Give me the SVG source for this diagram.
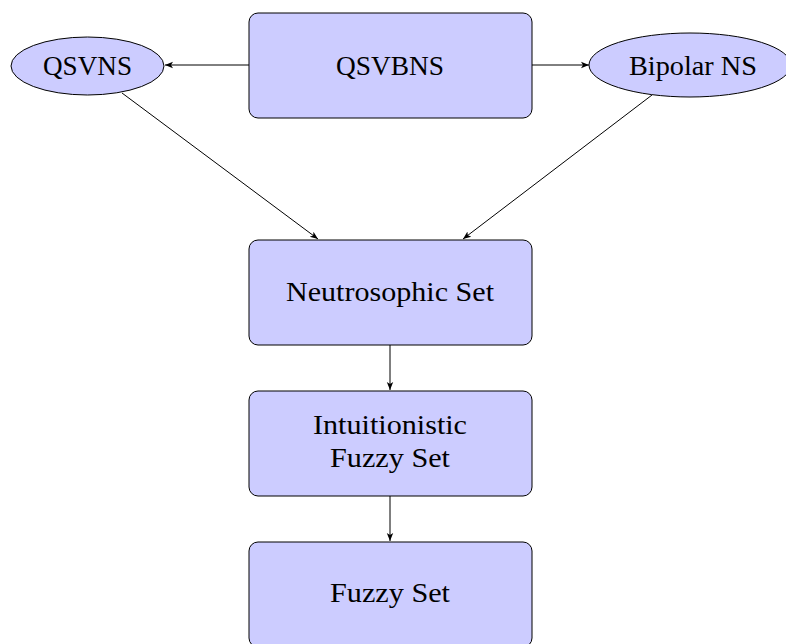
<svg xmlns="http://www.w3.org/2000/svg" width="786" height="644" viewBox="0 0 786 644">
<style>
.box{fill:#ccccff;stroke:#000;stroke-width:1}
.t{font-family:"Liberation Serif","DejaVu Serif",serif;font-size:27px;fill:#000;text-anchor:middle}
.c{stroke:#000;stroke-width:1;fill:none;marker-end:url(#ah)}
</style>
<defs>
<marker id="ah" viewBox="0 0 10 10" refX="10" refY="5" markerWidth="8" markerHeight="8" markerUnits="userSpaceOnUse" orient="auto">
<path d="M0,1 L10,5 L0,9 L2.5,5 Z" fill="#000"/>
</marker>
</defs>
<rect width="786" height="644" fill="#fff"/>
<g id="connectors">
<line class="c" x1="249" y1="65" x2="165" y2="65"/>
<line class="c" x1="532" y1="65" x2="589" y2="65"/>
<line class="c" x1="122" y1="93" x2="318" y2="239"/>
<line class="c" x1="652" y1="95" x2="463" y2="239"/>
<line class="c" x1="390" y1="345" x2="390" y2="390"/>
<line class="c" x1="390" y1="496" x2="390" y2="541"/>
</g>
<g id="qsvbns">
<rect class="box" x="249" y="13" width="283" height="105" rx="9"/>
<text class="t" x="390" y="75" textLength="108" lengthAdjust="spacingAndGlyphs">QSVBNS</text>
</g>
<g id="qsvns">
<ellipse class="box" cx="87.5" cy="66" rx="76.5" ry="29"/>
<text class="t" x="87.5" y="75" textLength="89" lengthAdjust="spacingAndGlyphs">QSVNS</text>
</g>
<g id="bipolar">
<ellipse class="box" cx="690" cy="65" rx="101" ry="32"/>
<text class="t" x="693" y="75" textLength="128" lengthAdjust="spacingAndGlyphs">Bipolar NS</text>
</g>
<g id="neutrosophic">
<rect class="box" x="249" y="240" width="283" height="105" rx="9"/>
<text class="t" x="390" y="301" textLength="208" lengthAdjust="spacingAndGlyphs">Neutrosophic Set</text>
</g>
<g id="intuitionistic">
<rect class="box" x="249" y="391" width="283" height="105" rx="9"/>
<text class="t" x="390" y="434" textLength="154" lengthAdjust="spacingAndGlyphs">Intuitionistic</text>
<text class="t" x="390" y="467" textLength="120" lengthAdjust="spacingAndGlyphs">Fuzzy Set</text>
</g>
<g id="fuzzy">
<rect class="box" x="249" y="542" width="283" height="105" rx="9"/>
<text class="t" x="390" y="602" textLength="120" lengthAdjust="spacingAndGlyphs">Fuzzy Set</text>
</g>
</svg>
